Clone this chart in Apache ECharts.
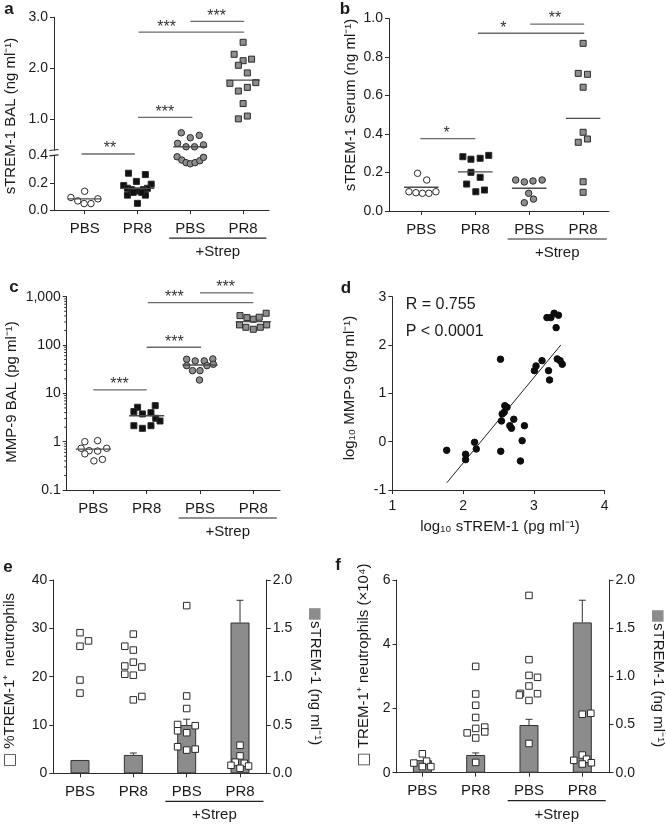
<!DOCTYPE html>
<html><head><meta charset="utf-8">
<script src="https://cdn.jsdelivr.net/npm/echarts@6/dist/echarts.min.js"></script>
<style>html,body{margin:0;padding:0;background:#fff}#c{width:666px;height:824px}</style>
</head><body><div id="c"></div>
<script>
const FONT = '"Liberation Sans", Arial, Helvetica, sans-serif';
const categories = ['PBS', 'PR8', 'PBS', 'PR8'];
const groupPos = [1, 2, 3, 4];

// ---------- Panel a : sTREM-1 BAL (ng/ml), broken axis at 0.4 ----------
const aPBS_v   = [0.093, 0.068, 0.138, 0.048, 0.048, 0.083];
const aPBS_dx  = [-0.26, -0.13, 0, -0.01, 0.12, 0.25];
const aPR8_v   = [0.27, 0.26, 0.21, 0.18, 0.19, 0.16, 0.16, 0.15, 0.14, 0.15, 0.11, 0.11, 0.05, 0.13, 0.13];
const aPR8_dx  = [-0.17, 0.15, -0.02, -0.26, 0.26, -0.19, 0.19, -0.11, 0, 0.11, -0.19, 0.15, 0, -0.08, 0.08];
const aPBSs_v  = [0.737, 0.64, 0.686, 0.53, 0.463, 0.463, 0.50, 0.39, 0.366, 0.347, 0.339, 0.347, 0.361, 0.386];
const aPBSs_dx = [-0.17, 0, 0.17, -0.24, -0.08, 0.08, 0.25, -0.25, -0.16, -0.08, 0, 0.09, 0.18, 0.25];
const aPR8s_v  = [2.51, 2.275, 2.15, 2.18, 2.06, 1.91, 1.706, 1.72, 1.555, 1.627, 1.31, 1.01, 1.065];
const aPR8s_dx = [0, -0.17, 0, 0.16, -0.09, 0.08, -0.25, 0.24, -0.09, 0.08, 0, -0.09, 0.08];
const aMeans   = [0.083, 0.159, 0.463, 1.77];
const aBreak   = 0.4;
const aTicksUpper = [1, 2, 3];
const aTicksLower = [0, 0.2, 0.4];
// [x1, x2, y, labelX, label]
const aSig = [[0.94, 1.95, 0.41, 1.48, '**'], [2.01, 3.04, 1.04, 2.52, '***'], [2.02, 4.02, 2.71, 2.55, '***'], [3.0, 4.02, 2.92, 3.5, '***']];

// ---------- Panel b : sTREM-1 Serum ----------
const bPBS_v   = [0.196, 0.161, 0.100, 0.095, 0.092, 0.092, 0.100];
const bPBS_dx  = [-0.07, 0.10, -0.23, -0.10, 0.02, 0.14, 0.27];
const bPR8_v   = [0.282, 0.269, 0.274, 0.289, 0.201, 0.175, 0.140, 0.100, 0.109];
const bPR8_dx  = [-0.23, -0.08, 0.09, 0.25, -0.08, 0.09, -0.16, 0.01, 0.17];
const bPBSs_v  = [0.161, 0.151, 0.156, 0.161, 0.092, 0.062, 0.043];
const bPBSs_dx = [-0.25, -0.09, 0.07, 0.24, -0.01, 0.08, -0.09];
const bPR8s_v  = [0.871, 0.715, 0.710, 0.643, 0.409, 0.357, 0.374, 0.152, 0.097];
const bPR8s_dx = [0, -0.09, 0.08, 0, 0, -0.09, 0.08, 0, 0];
const bMeans   = [0.123, 0.203, 0.118, 0.481];
const bSig = [[0.98, 2.0, 0.376, 1.47, '*'], [2.05, 4.02, 0.923, 2.52, '*'], [3.02, 4.02, 0.971, 3.48, '**']];

// ---------- Panel c : MMP-9 BAL (log) ----------
const cPBS_v   = [0.73, 1.0, 0.65, 1.05, 0.73, 0.56, 0.64, 0.40, 0.43];
const cPBS_dx  = [-0.23, -0.16, -0.08, 0.08, 0.25, -0.16, 0.08, 0.01, 0.17];
const cPR8_v   = [5.15, 4.2, 3.75, 5.56, 3.98, 3.05, 2.68, 2.14, 1.89, 2.14];
const cPR8_dx  = [-0.17, -0.24, -0.08, 0.16, 0.08, 0.17, 0.25, -0.24, -0.08, 0.08];
const cPBSs_v  = [50.8, 46.9, 46.9, 51.5, 37.4, 29.5, 29.5, 37.4, 40, 18.9];
const cPBSs_dx = [-0.25, -0.09, 0.08, 0.24, -0.25, -0.14, 0, 0.13, 0.25, -0.01];
const cPR8s_v  = [406, 369, 342, 376, 455, 261, 233, 212, 233, 261];
const cPR8s_dx = [-0.25, -0.12, 0, 0.11, 0.24, -0.26, -0.14, 0, 0.13, 0.25];
const cMeans   = [0.70, 3.45, 38.7, 305];
const cSig = [[1.0, 2.0, 11.8, 1.49, '***'], [2.0, 3.02, 90, 2.52, '***'], [2.02, 4.0, 755, 2.52, '***'], [3.0, 4.0, 1199, 3.48, '***']];
const cTicks = [0.1, 1, 10, 100, 1000];
const cMinor = [0.2, 0.3, 0.4, 0.5, 0.6, 0.7, 0.8, 0.9, 2, 3, 4, 5, 6, 7, 8, 9, 20, 30, 40, 50, 60, 70, 80, 90, 200, 300, 400, 500, 600, 700, 800, 900];

// ---------- Panel d : correlation ----------
const dX = [1.768, 2.035, 2.035, 2.162, 2.186, 2.528, 2.532, 2.542, 2.552, 2.58, 2.589, 2.62, 2.66, 2.683, 2.716, 2.834, 2.81, 2.866, 3.007, 3.03, 3.115, 3.207, 3.221, 3.184, 3.24, 3.286, 3.347, 3.314, 3.33, 3.37, 3.40];
const dY = [-0.178, -0.261, -0.372, -0.013, -0.151, 1.706, -0.199, 0.428, 0.573, 0.608, 0.745, 0.712, 0.331, 0.277, 0.464, 0.02, -0.40, 0.331, 1.47, 1.567, 1.677, 1.47, 1.277, 2.567, 2.567, 2.658, 2.617, 2.36, 1.712, 1.677, 1.602];
const dFit = [[1.77, -0.85], [3.38, 2.0]];

// ---------- Panel e : %TREM-1+ neutrophils (squares) + sTREM-1 bars ----------
const eBars = [0.138, 0.19, 0.50, 1.56];
const eErr  = [0.138, 0.21, 0.56, 1.79];
const ePBS_v   = [29.1, 26.3, 27.4, 19.3, 16.6];
const ePBS_dx  = [0, 0, 0.16, 0, 0];
const ePR8_v   = [28.8, 26.3, 25.5, 23.0, 22.2, 22.0, 20.5, 20.3, 15.2, 15.9];
const ePR8_dx  = [0, -0.16, 0, 0, -0.16, 0.16, -0.16, 0, 0, 0.16];
const ePBSs_v  = [34.7, 16.0, 13.4, 10.1, 9.85, 8.8, 8.4, 5.5, 4.8, 5.0];
const ePBSs_dx = [0, 0, 0, -0.17, 0.16, -0.17, 0, -0.17, 0, 0.16];
const ePR8s_v  = [5.8, 3.6, 2.3, 2.07, 1.65, 1.5, 1.03];
const ePR8s_dx = [0, 0, -0.09, 0.08, -0.17, 0.16, 0];

// ---------- Panel f : TREM-1+ neutrophils (x10^4) + sTREM-1 bars ----------
const fBars = [0.13, 0.184, 0.495, 1.56];
const fErr  = [0.13, 0.205, 0.554, 1.79];
const fPBS_v   = [0.59, 0.30, 0.36, 0.19, 0.19];
const fPBS_dx  = [0, -0.16, 0.08, 0, 0.16];
const fPR8_v   = [3.31, 2.45, 2.10, 1.72, 1.38, 1.42, 1.27, 1.24, 1.08, 0.32];
const fPR8_dx  = [0, 0, 0, 0, 0, 0.17, 0.17, -0.16, 0, 0];
const fPBSs_v  = [5.52, 3.52, 3.03, 2.97, 2.70, 2.47, 2.46, 2.25, 0.91, 2.42];
const fPBSs_dx = [0, 0, 0, 0.16, 0, -0.16, 0.16, 0, 0, -0.18];
const fPR8s_v  = [1.82, 1.85, 0.55, 0.385, 0.42, 0.27, 0.31];
const fPR8s_dx = [0, 0.16, 0, -0.16, 0.08, 0, 0.17];

// ================= build =================
const AX = '#2b2b2b', TXT = '#1a1a1a';
const pts = (vals, dx, g) => vals.map((v, i) => [g + dx[i], v]);

function catX(grid, min, max, show) {
  return {
    type: 'value', gridIndex: grid, min: min, max: max, show: show !== false,
    axisLine: { show: true, onZero: false, lineStyle: { color: AX, width: 1 } },
    axisTick: { show: true, inside: false, length: 4, customValues: groupPos, lineStyle: { color: AX, width: 1 } },
    axisLabel: { show: true, customValues: groupPos, formatter: v => categories[Math.round(v) - 1] || '', fontSize: 15, color: TXT, fontFamily: FONT, margin: 11 },
    splitLine: { show: false }
  };
}
function valY(grid, min, max, o) {
  o = o || {};
  const ax = {
    type: o.type || 'value', gridIndex: grid, min: min, max: max, position: o.position || 'left',
    axisLine: { show: true, onZero: false, lineStyle: { color: AX, width: 1 } },
    axisTick: { show: true, inside: false, length: 4, lineStyle: { color: AX, width: 1 } },
    axisLabel: { show: true, fontSize: 14, color: TXT, fontFamily: FONT, margin: 6, formatter: o.fmt },
    splitLine: { show: false }, minorTick: { show: false }
  };
  if (o.interval != null) ax.interval = o.interval;
  if (o.custom) { ax.axisTick.customValues = o.custom; ax.axisLabel.customValues = o.custom; }
  if (o.logBase) ax.logBase = o.logBase;
  return ax;
}
function scat(xi, yi, data, sym, fill, size, border) {
  return { type: 'scatter', xAxisIndex: xi, yAxisIndex: yi, data: data, symbol: sym, symbolSize: size, z: 3, silent: true,
    itemStyle: { color: fill, borderColor: border || '#2a2a2a', borderWidth: 1, opacity: 1 } };
}
function meanSeries(xi, yi, data, half) {
  return { type: 'custom', xAxisIndex: xi, yAxisIndex: yi, z: 5, silent: true, data: data,
    renderItem: (p, api) => {
      const x = api.value(0), y = api.value(1);
      const a = api.coord([x - half, y]), b = api.coord([x + half, y]);
      return { type: 'line', shape: { x1: a[0], y1: a[1], x2: b[0], y2: b[1] }, style: { stroke: '#4a4a4a', lineWidth: 1.4 } };
    } };
}
function sigSeries(xi, yi, list) {
  return { type: 'custom', xAxisIndex: xi, yAxisIndex: yi, z: 5, silent: true,
    data: list.map(b => [b[0], b[2]]),
    renderItem: (p, api) => {
      const b = list[p.dataIndex];
      const s = api.coord([b[0], b[2]]), e = api.coord([b[1], b[2]]), t = api.coord([b[3], b[2]]);
      return { type: 'group', children: [
        { type: 'line', shape: { x1: s[0], y1: s[1], x2: e[0], y2: s[1] }, style: { stroke: '#6a6a6a', lineWidth: 1.4 } },
        { type: 'text', x: t[0], y: s[1] - 5, style: { text: b[4], font: '16px ' + FONT, fill: '#333', align: 'center', verticalAlign: 'middle', textAlign: 'center', textVerticalAlign: 'middle' } }
      ] };
    } };
}
function errSeries(xi, yi, bars, errs) {
  return { type: 'custom', xAxisIndex: xi, yAxisIndex: yi, z: 2, silent: true,
    data: bars.map((v, i) => [i + 1, v, errs[i]]),
    renderItem: (p, api) => {
      const a = api.coord([api.value(0), api.value(1)]), b = api.coord([api.value(0), api.value(2)]);
      if (Math.abs(a[1] - b[1]) < 1) return { type: 'group', children: [] };
      return { type: 'group', children: [
        { type: 'line', shape: { x1: a[0], y1: a[1], x2: b[0], y2: b[1] }, style: { stroke: '#333', lineWidth: 1 } },
        { type: 'line', shape: { x1: b[0] - 3.5, y1: b[1], x2: b[0] + 3.5, y2: b[1] }, style: { stroke: '#333', lineWidth: 1 } }
      ] };
    } };
}
function barSeries(xi, yi, bars) {
  return { type: 'bar', xAxisIndex: xi, yAxisIndex: yi, data: bars.map((v, i) => [i + 1, v]), barWidth: 19, z: 1, silent: true,
    itemStyle: { color: '#8c8c8c', borderColor: '#333', borderWidth: 1 } };
}

const GREY = '#8e8e8e';
const series = [];
// panel a
function splitA(vals, dx, g) { const up = [], lo = []; vals.forEach((v, i) => (v >= aBreak ? up : lo).push([g + dx[i], v])); return [up, lo]; }
[[aPBS_v, aPBS_dx, 1, 'circle', '#fff', 6.5], [aPR8_v, aPR8_dx, 2, 'rect', '#111', 6], [aPBSs_v, aPBSs_dx, 3, 'circle', GREY, 6.5], [aPR8s_v, aPR8s_dx, 4, 'rect', GREY, 6]].forEach(g => {
  const s = splitA(g[0], g[1], g[2]);
  series.push(scat(0, 0, s[0], g[3], g[4], g[5]));
  series.push(scat(1, 1, s[1], g[3], g[4], g[5]));
});
series.push(meanSeries(0, 0, aMeans.map((m, i) => [i + 1, m]).filter(d => d[1] >= aBreak), 0.32));
series.push(meanSeries(1, 1, aMeans.map((m, i) => [i + 1, m]).filter(d => d[1] < aBreak), 0.32));
series.push(sigSeries(0, 0, aSig.filter(b => b[2] > 0.42)));
series.push(sigSeries(1, 1, aSig.filter(b => b[2] <= 0.42)));
// panel b
series.push(scat(2, 2, pts(bPBS_v, bPBS_dx, 1), 'circle', '#fff', 6.5));
series.push(scat(2, 2, pts(bPR8_v, bPR8_dx, 2), 'rect', '#111', 6));
series.push(scat(2, 2, pts(bPBSs_v, bPBSs_dx, 3), 'circle', GREY, 6.5));
series.push(scat(2, 2, pts(bPR8s_v, bPR8s_dx, 4), 'rect', GREY, 6));
series.push(meanSeries(2, 2, bMeans.map((m, i) => [i + 1, m]), 0.32));
series.push(sigSeries(2, 2, bSig));
// panel c
series.push(scat(3, 3, pts(cPBS_v, cPBS_dx, 1), 'circle', '#fff', 6.5));
series.push(scat(3, 3, pts(cPR8_v, cPR8_dx, 2), 'rect', '#111', 6));
series.push(scat(3, 3, pts(cPBSs_v, cPBSs_dx, 3), 'circle', GREY, 6.5));
series.push(scat(3, 3, pts(cPR8s_v, cPR8s_dx, 4), 'rect', GREY, 6));
series.push(meanSeries(3, 3, cMeans.map((m, i) => [i + 1, m]), 0.33));
series.push(sigSeries(3, 3, cSig));
series.push({ type: 'custom', xAxisIndex: 3, yAxisIndex: 3, silent: true, z: 1, data: cMinor.map(v => [0.5, v]),
  renderItem: (p, api) => { const c = api.coord([api.value(0), api.value(1)]);
    return { type: 'line', shape: { x1: c[0] - 2.5, y1: c[1], x2: c[0], y2: c[1] }, style: { stroke: AX, lineWidth: 1 } }; } });
// panel d
series.push(scat(4, 4, dX.map((x, i) => [x, dY[i]]), 'circle', '#0d0d0d', 6.5, '#0d0d0d'));
series.push({ type: 'line', xAxisIndex: 4, yAxisIndex: 4, data: dFit, symbol: 'none', silent: true, z: 2, lineStyle: { color: '#222', width: 1 } });
// panel e
series.push(barSeries(5, 6, eBars));
series.push(errSeries(5, 6, eBars, eErr));
series.push(scat(5, 5, pts(ePBS_v, ePBS_dx, 1), 'rect', '#fff', 6.5));
series.push(scat(5, 5, pts(ePR8_v, ePR8_dx, 2), 'rect', '#fff', 6.5));
series.push(scat(5, 5, pts(ePBSs_v, ePBSs_dx, 3), 'rect', '#fff', 6.5));
series.push(scat(5, 5, pts(ePR8s_v, ePR8s_dx, 4), 'rect', '#fff', 6.5));
// panel f
series.push(barSeries(6, 8, fBars));
series.push(errSeries(6, 8, fBars, fErr));
series.push(scat(6, 7, pts(fPBS_v, fPBS_dx, 1), 'rect', '#fff', 6.5));
series.push(scat(6, 7, pts(fPR8_v, fPR8_dx, 2), 'rect', '#fff', 6.5));
series.push(scat(6, 7, pts(fPBSs_v, fPBSs_dx, 3), 'rect', '#fff', 6.5));
series.push(scat(6, 7, pts(fPR8s_v, fPR8s_dx, 4), 'rect', '#fff', 6.5));

const f1 = v => v.toFixed(1);
const option = {
  animation: false,
  backgroundColor: '#fff',
  textStyle: { fontFamily: FONT },
  grid: [
    { left: 54, top: 17.3, width: 215, height: 132.7 },
    { left: 54, top: 155.4, width: 215, height: 54.8 },
    { left: 389, top: 18.5, width: 220, height: 192.5 },
    { left: 66.7, top: 296.7, width: 213.3, height: 193.3 },
    { left: 392.3, top: 296.7, width: 212.4, height: 193.3 },
    { left: 53.3, top: 580, width: 213.4, height: 193.3 },
    { left: 396.5, top: 580, width: 213, height: 192.7 }
  ],
  xAxis: [
    catX(0, 0.42, 4.49, false),
    catX(1, 0.42, 4.49),
    catX(2, 0.4, 4.48),
    catX(3, 0.5, 4.5),
    Object.assign(valY(4, 1, 4, { interval: 1, fmt: v => String(v) }), { position: 'bottom' }),
    catX(5, 0.5, 4.5),
    catX(6, 0.515, 4.51)
  ],
  yAxis: [
    valY(0, 0.4, 3, { custom: aTicksUpper, fmt: f1 }),
    valY(1, 0, 0.4, { custom: aTicksLower, fmt: f1 }),
    valY(2, 0, 1, { interval: 0.2, fmt: f1 }),
    valY(3, 0.1, 1000, { type: 'log', logBase: 10, custom: cTicks, fmt: v => Number(v.toPrecision(3)).toLocaleString('en-US') }),
    valY(4, -1, 3, { interval: 1, fmt: v => String(v) }),
    valY(5, 0, 40, { interval: 10, fmt: v => String(v) }),
    valY(5, 0, 2, { interval: 0.5, fmt: f1, position: 'right' }),
    valY(6, 0, 6, { interval: 2, fmt: v => String(v) }),
    valY(6, 0, 2, { interval: 0.5, fmt: f1, position: 'right' })
  ],
  series: series
};
option.xAxis[4].axisLabel.margin = 9;

const chart = echarts.init(document.getElementById('c'), null, { renderer: 'canvas', width: 666, height: 824 });
chart.setOption(option);

// ---------- annotations ----------
function T(x, y, text, font, extra) {
  const el = { type: 'text', x: x, y: y, silent: true, z: 10,
    style: { text: text, font: font || ('15px ' + FONT), fill: TXT, align: 'center', verticalAlign: 'middle', textAlign: 'center', textVerticalAlign: 'middle' } };
  if (extra) { if (extra.rotation != null) el.rotation = extra.rotation; if (extra.rich) el.style.rich = extra.rich; if (extra.align) { el.style.align = extra.align; el.style.textAlign = extra.align; } }
  return el;
}
function L(x1, y1, x2, y2, w, c) {
  return { type: 'line', silent: true, z: 10, shape: { x1: x1, y1: y1, x2: x2, y2: y2 }, style: { stroke: c || AX, lineWidth: w || 1 } };
}
const gfx = [];
const B = 'bold 17px ' + FONT;
gfx.push(T(9, 9, 'a', B), T(345, 9, 'b', B), T(14, 287, 'c', B), T(346, 288, 'd', B), T(8, 567, 'e', B), T(338, 565, 'f', B));
const R90 = Math.PI / 2;
gfx.push(T(11, 116, 'sTREM-1 BAL (ng ml⁻¹)', null, { rotation: R90 }));
gfx.push(T(351, 105, 'sTREM-1 Serum (ng ml⁻¹)', null, { rotation: R90 }));
gfx.push(T(12, 392, 'MMP-9 BAL (pg ml⁻¹)', null, { rotation: R90 }));
gfx.push(T(350, 388, 'log₁₀ MMP-9 (pg ml⁻¹)', null, { rotation: R90 }));
gfx.push(T(500, 527, 'log₁₀ sTREM-1 (pg ml⁻¹)'));
const richSq = { o: { font: '15px "DejaVu Sans", sans-serif', fill: '#333' }, g: { font: '15px "DejaVu Sans", sans-serif', fill: '#8c8c8c' } };
gfx.push(T(10, 680, '{o|□} %TREM-1⁺  neutrophils', null, { rotation: R90, rich: richSq }));
gfx.push(T(315, 676, '{g|■}sTREM-1 (ng ml⁻¹)', null, { rotation: -R90, rich: richSq }));
gfx.push(T(364, 665, '{o|□} TREM-1⁺ neutrophils (×10⁴)', null, { rotation: R90, rich: richSq }));
gfx.push(T(658, 678, '{g|■}sTREM-1 (ng ml⁻¹)', null, { rotation: -R90, rich: richSq }));
gfx.push(T(405.7, 305, 'R = 0.755', '16px ' + FONT, { align: 'left' }));
gfx.push(T(405.7, 331.7, 'P < 0.0001', '16px ' + FONT, { align: 'left' }));
// +Strep group lines
[[1, 1, 0], [2, 2, 0], [3, 3, 0.1], [5, 5, 0], [6, 7, 0]].forEach(p => {
  const x1 = chart.convertToPixel({ xAxisIndex: p[0] }, 2.6);
  const x2 = chart.convertToPixel({ xAxisIndex: p[0] }, 4.44);
  const y0 = chart.convertToPixel({ yAxisIndex: p[1] }, p[2]);
  gfx.push(L(x1, y0 + 28, x2, y0 + 28, 1.2, '#222'));
  gfx.push(T((x1 + x2) / 2, y0 + 42, '+Strep'));
});
// axis break marks (panel a)
const yb1 = chart.convertToPixel({ yAxisIndex: 0 }, aBreak);
const yb2 = chart.convertToPixel({ yAxisIndex: 1 }, aBreak);
const xb = chart.convertToPixel({ xAxisIndex: 1 }, 0.42);
gfx.push(L(xb - 4.5, yb1 + 0.5, xb + 4.5, yb1 - 0.5, 1.2), L(xb - 4.5, yb2 + 0.5, xb + 4.5, yb2 - 0.5, 1.2));
chart.setOption({ graphic: gfx });
</script></body></html>
